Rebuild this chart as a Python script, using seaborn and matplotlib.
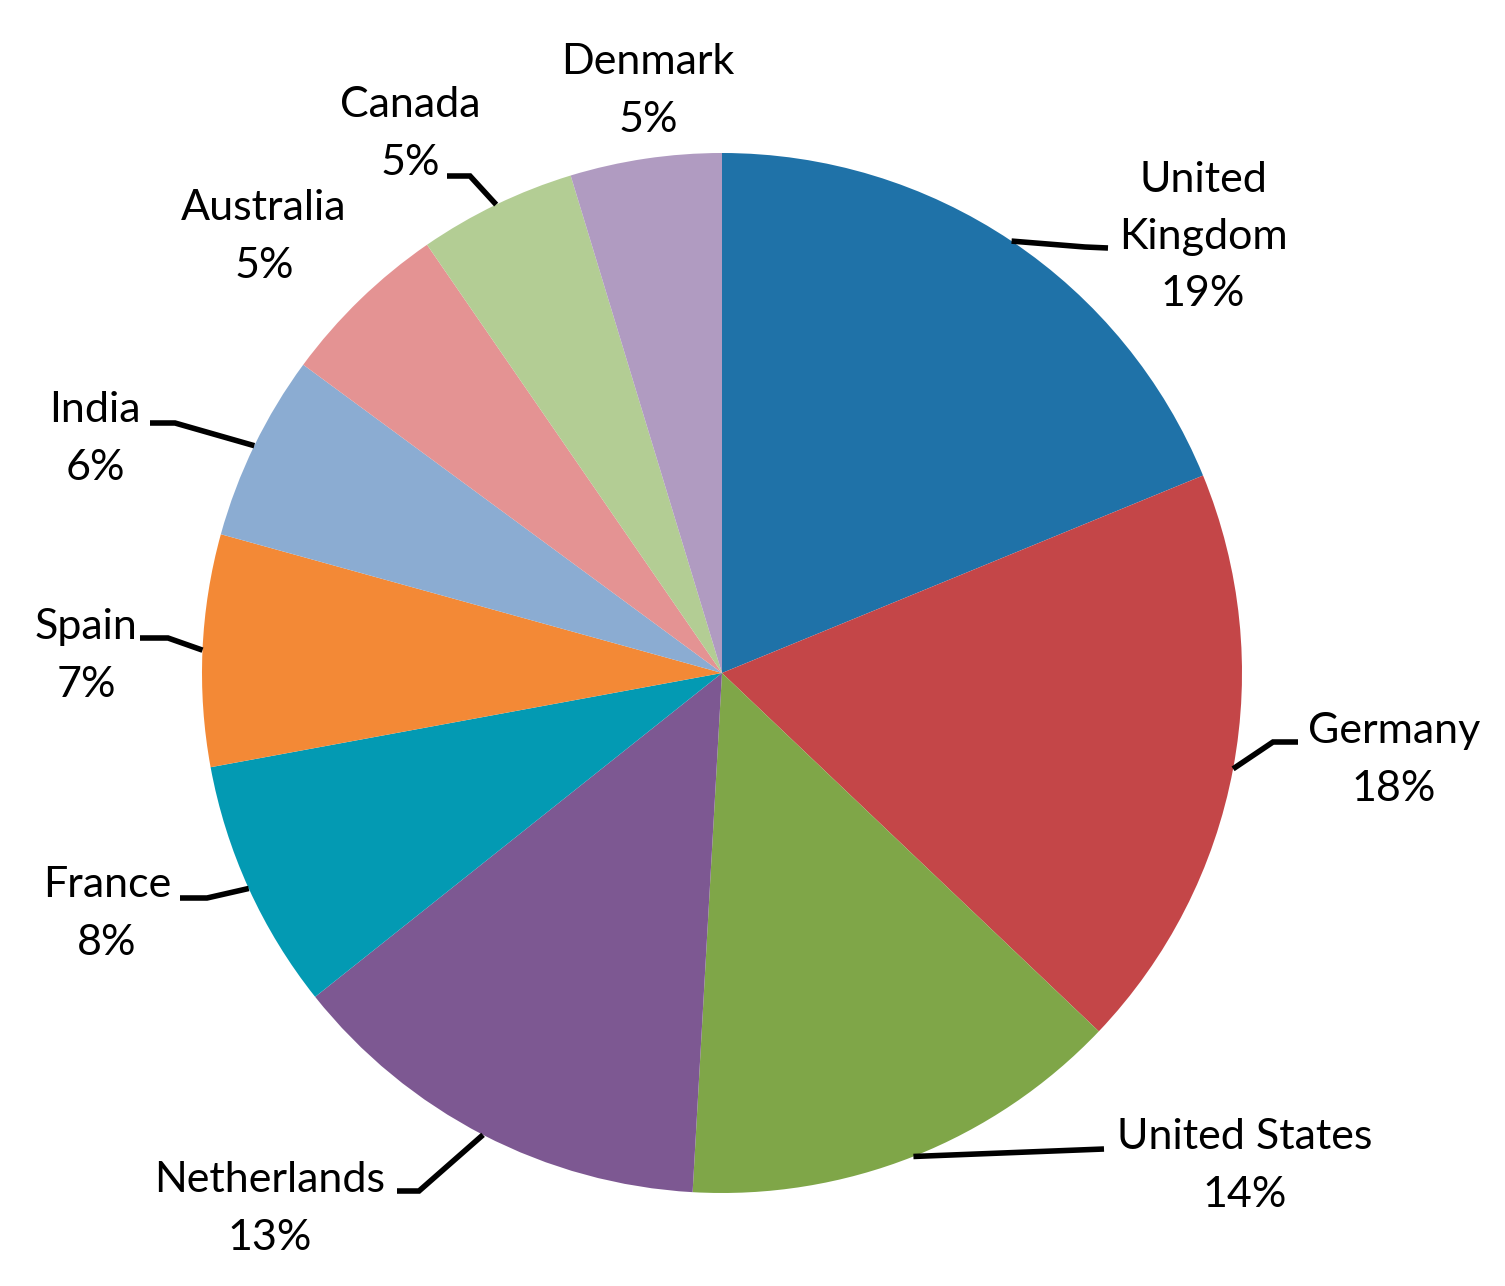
import matplotlib
matplotlib.use("Agg")
import matplotlib.pyplot as plt
import seaborn as sns
import numpy as np

# ---- data ----
categories = ["United Kingdom", "Germany", "United States", "Netherlands", "France",
              "Spain", "India", "Australia", "Canada", "Denmark"]
label_names = ["United\nKingdom", "Germany", "United States", "Netherlands", "France",
               "Spain", "India", "Australia", "Canada", "Denmark"]
values = [18.8, 18.3, 13.8, 13.4, 7.8, 7.2, 5.8, 5.3, 4.9, 4.7]
colors = ["#1F72A8", "#C44648", "#7FA648", "#7D5892", "#039AB3",
          "#F38936", "#8BACD2", "#E49393", "#B3CD94", "#B09BC1"]

# ---- layout (image pixel coords, y downward) ----
W, H = 1505, 1286
center_img = (722, 673)
radius = 520
label_pos = [(1203, 237), (1394, 760), (1245, 1166), (270, 1209), (107, 914),
             (86, 656), (95, 439), (264, 237), (410, 134), (648, 91)]
leader_paths = [[(1085, 247), (1108, 248)], [(1273, 742), (1298, 742)],
                [(1104, 1149)], [(419, 1191), (397, 1191)],
                [(207, 898), (180, 898)], [(168, 638), (140, 638)],
                [(175, 423), (150, 423)], [], [(470, 176), (447, 176)], []]

sns.set_style("white")
plt.rcParams['font.family'] = ['Lato', 'DejaVu Sans']

fig = plt.figure(figsize=(W / 100, H / 100), dpi=100)
ax = fig.add_axes([0, 0, 1, 1])
ax.set_xlim(0, W)
ax.set_ylim(0, H)
ax.set_aspect("equal")
ax.axis("off")

cx, cy = center_img[0], H - center_img[1]
palette = sns.color_palette(colors)
wedges, _ = ax.pie(values, colors=palette, startangle=90, counterclock=False,
                   center=(cx, cy), radius=radius,
                   wedgeprops=dict(linewidth=0))
ax.set_xlim(0, W)
ax.set_ylim(0, H)

total = sum(values)
for w, name, v, lp, path in zip(wedges, label_names, values, label_pos, leader_paths):
    pct = int(round(v / total * 100))
    ax.text(lp[0], H - lp[1], f"{name}\n{pct}%", ha="center", va="center",
            fontsize=31, linespacing=1.62, color="black")
    if path:
        mid = np.deg2rad((w.theta1 + w.theta2) / 2)
        xs = [cx + radius * np.cos(mid)] + [p[0] for p in path]
        ys = [cy + radius * np.sin(mid)] + [H - p[1] for p in path]
        ax.plot(xs, ys, color="black", linewidth=4.0, solid_capstyle="butt",
                solid_joinstyle="miter")

fig.savefig("out.png", dpi=100)
